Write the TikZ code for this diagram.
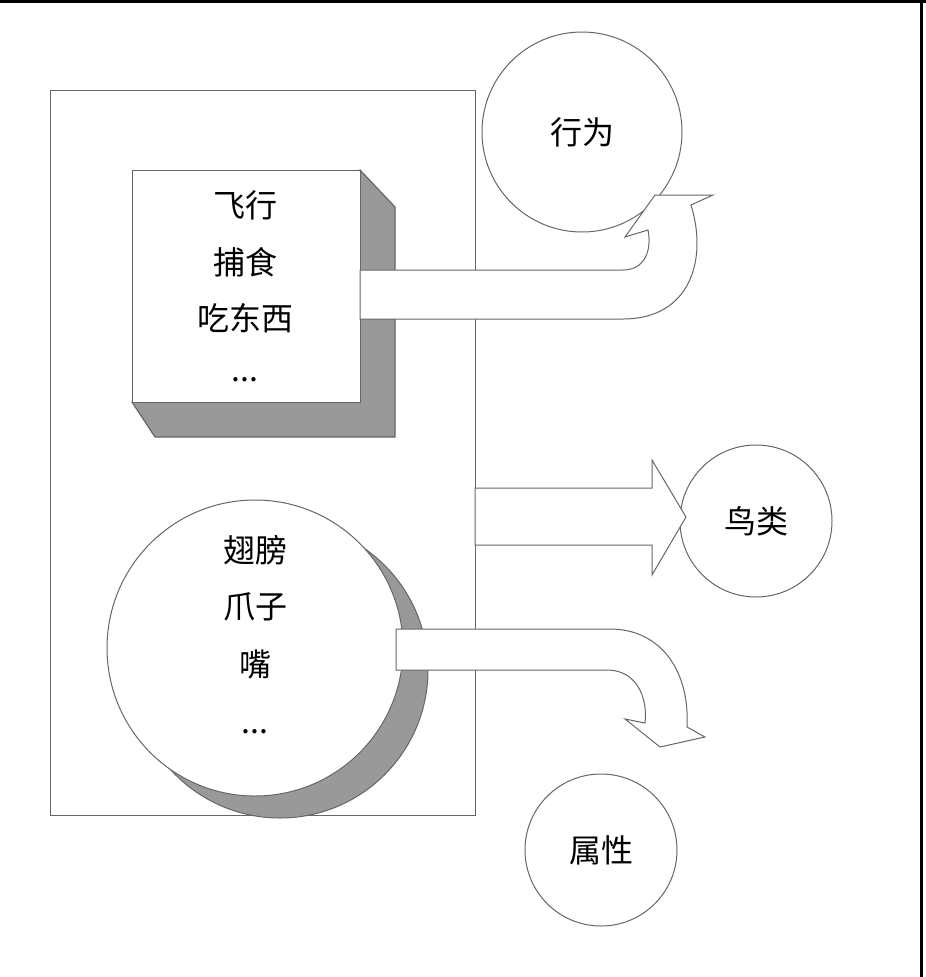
\documentclass[tikz,border=0pt]{standalone}
\usepackage{fontspec}
\newfontfamily\cjk{Noto Sans CJK SC}
\begin{document}
\begin{tikzpicture}[x=1pt,y=-1pt,
  ln/.style={draw=black!60,line width=1.2pt},
  arr/.style={draw=black!60,fill=white,line width=1pt},
  lbl/.style={font=\cjk\fontsize{32}{36}\selectfont,inner sep=0pt},
  circ/.style={draw=black!60,fill=white,line width=1pt,circle,inner sep=0pt}]
\useasboundingbox (0,0) rectangle (926,977);
\draw[line width=3pt] (0,1) -- (926,1);
\draw[line width=3pt] (921,0) -- (921,977);
\node[ln,fill=white,minimum width=425,minimum height=725,anchor=north west] (frame) at (50,90) {};
% 3D box
\path[ln,fill=black!40] (360,170) -- (395,207) -- (395,437) -- (155,437) -- (132,402) -- cycle;
\node[ln,fill=white,minimum width=228,minimum height=232,anchor=north west] (box) at (132,170) {};
\node[lbl] (b1) at (245,205) {飞行};
\node[lbl] (b2) at (245,262) {捕食};
\node[lbl] (b3) at (245,318) {吃东西};
\node[lbl] (b4) at (245,380) {...};
% cylinder-like circle
\node[circ,fill=black!40,minimum size=296] (shadow) at (280,670) {};
\node[circ,minimum size=296] (disk) at (255,648) {};
\node[lbl] (c1) at (255,550) {翅膀};
\node[lbl] (c2) at (255,607) {爪子};
\node[lbl] (c3) at (255,665) {嘴};
\node[lbl] (c4) at (255,732) {...};
% targets
\node[circ,minimum size=200] (beh) at (582,132) {};
\node[lbl] at (beh) {行为};
\node[circ,minimum size=152] (bird) at (756,521) {};
\node[lbl] at (bird) {鸟类};
\node[circ,minimum size=152] (attr) at (601,850) {};
\node[lbl] at (attr) {属性};
% arrows
\draw[arr] (360,270) -- (623,270) .. controls (645,270) and (652,250) .. (648,230) -- (625,237) -- (655,195) -- (713,195) -- (691,205) .. controls (708,260) and (690,319) .. (623,319) -- (360,319) -- cycle;
\draw[arr] (475,488) -- (652,488) -- (652,460) -- (686,517) -- (652,575) -- (652,545) -- (475,545) -- cycle;
\draw[arr] (396,629) -- (610,629) .. controls (660,629) and (690,670) .. (687,727) -- (705,737) -- (660,747) -- (625,719) -- (645,723) .. controls (648,695) and (635,670) .. (607,670) -- (396,670) -- cycle;
\end{tikzpicture}
\end{document}
